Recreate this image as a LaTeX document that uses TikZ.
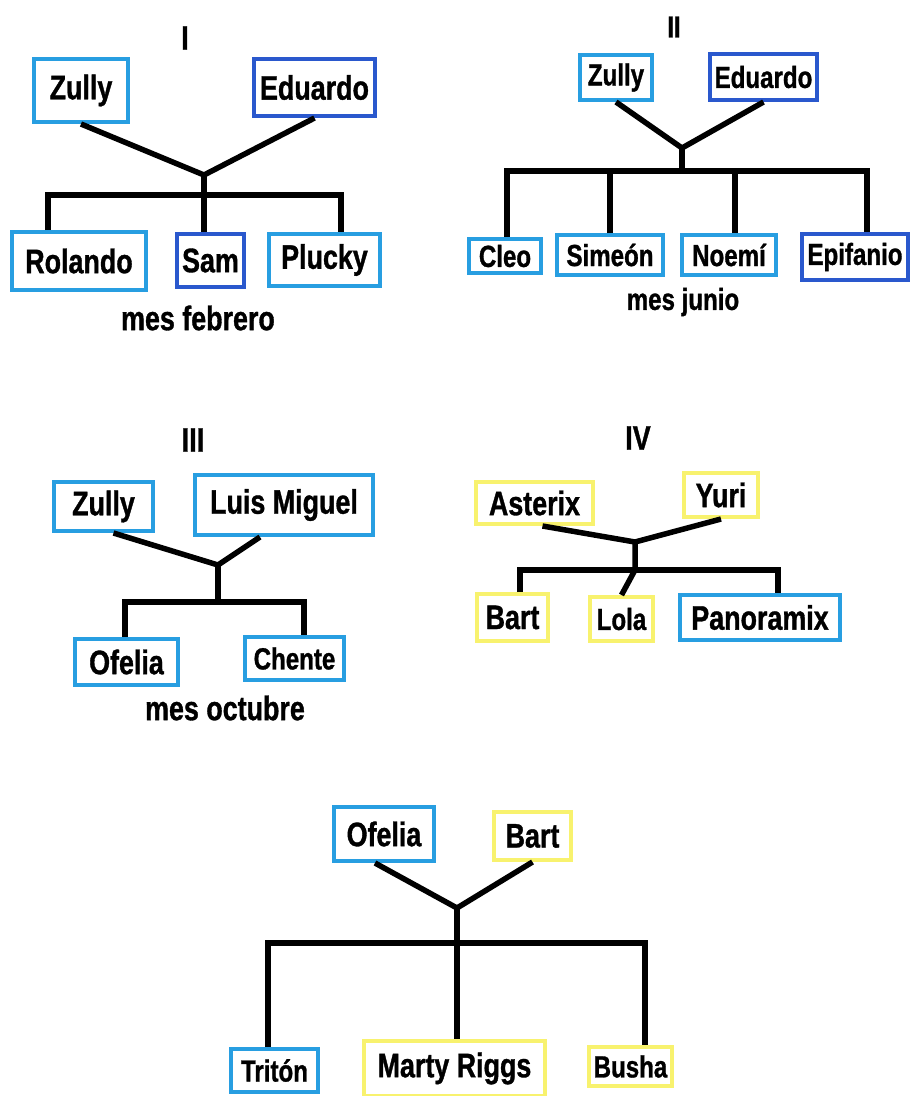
\documentclass[tikz,border=0pt]{standalone}
\usepackage{fontspec}
\setmainfont{Liberation Sans}[FakeStretch=0.79, FakeBold=1]
\usetikzlibrary{calc}

\definecolor{lblue}{RGB}{40,158,225}
\definecolor{dblue}{RGB}{42,88,205}
\definecolor{pyellow}{RGB}{248,242,110}

\begin{document}
\begin{tikzpicture}[x=1pt, y=-1pt,
  font=\fontsize{34}{34}\selectfont\bfseries,
  pbox/.style={draw=#1, line width=4pt, inner sep=0pt, fill=white},
  wh/.style 2 args={minimum width=#1, minimum height=#2},
  kin/.style={line width=5.5pt, line join=miter},
  small/.style={font=\fontsize{30.5}{30.5}\selectfont\bfseries}]
  \useasboundingbox[fill=white] (0,0) rectangle (913,1096);

  % --- arbol I: mes febrero ---
  \node (t1) at (185,38) {I};
  \node[pbox=lblue, wh={94}{63}] (zul1) at (81,90.5) {Zully};
  \node[pbox=dblue, wh={121}{57}] (edu1) at (314.5,87.5) {Eduardo};
  \node[pbox=lblue, wh={134}{58}] (rol1) at (79,261) {Rolando};
  \node[pbox=dblue, wh={67}{53}] (sam1) at (210.5,260.5) {Sam};
  \node[pbox=lblue, wh={111}{52}] (plu1) at (324.5,260) {Plucky};
  \node (m1) at (198,318) {mes febrero};
  \coordinate (j1) at (204,175);
  \coordinate (b1) at (204,195);
  \draw[kin] (zul1.south) -- (j1) -- (edu1.south);
  \draw[kin] (j1) -- (b1);
  \draw[kin] ([xshift=-31pt]rol1.north) |- (b1) -| ([xshift=16.5pt]plu1.north);
  \draw[kin] (b1) -- ([xshift=-6.5pt]sam1.north);

  % --- arbol II: mes junio ---
  \begin{scope}[small]
    \node (t2) at (674,27) {II};
    \node[pbox=lblue, wh={72}{45}] (zul2) at (616,77.5) {Zully};
    \node[pbox=dblue, wh={107}{46}] (edu2) at (763.5,77) {Eduardo};
    \node[pbox=lblue, wh={72}{34}] (cle2) at (505,256) {Cleo};
    \node[pbox=lblue, wh={106}{40}] (sim2) at (610,255) {Simeón};
    \node[pbox=lblue, wh={94}{40}] (noe2) at (729,255) {Noemí};
    \node[pbox=dblue, wh={106}{46}] (epi2) at (855,257) {Epifanio};
    \node (m2) at (683,302) {mes junio};
  \end{scope}
  \coordinate (j2) at (682,148);
  \coordinate (b2) at (682,171);
  \draw[kin] (zul2.south) -- (j2) -- (edu2.south);
  \draw[kin] (j2) -- (b2);
  \draw[kin] ([xshift=2pt]cle2.north) |- (b2) -| ([xshift=12pt]epi2.north);
  \draw[kin] (sim2.north) -- (sim2.north |- b2);
  \draw[kin] ([xshift=6pt]noe2.north) -- ([xshift=6pt]noe2.north |- b2);

  % --- arbol III: mes octubre ---
  \node (t3) at (193,440) {III};
  \node[pbox=lblue, wh={99}{49}] (zul3) at (103.5,506.5) {Zully};
  \node[pbox=lblue, wh={178}{60}] (lui3) at (284,505) {Luis Miguel};
  \node[pbox=lblue, wh={103}{46}] (ofe3) at (126.5,662) {Ofelia};
  \node[pbox=lblue, wh={99}{43}, small] (che3) at (294.5,658.5) {Chente};
  \node (m3) at (225,708) {mes octubre};
  \coordinate (j3) at (218,565);
  \coordinate (b3) at (218,602);
  \draw[kin] ([xshift=10pt]zul3.south) -- (j3) -- ([xshift=-24pt]lui3.south);
  \draw[kin] (j3) -- (b3);
  \draw[kin] ([xshift=-1.5pt]ofe3.north) |- (b3) -| ([xshift=9.5pt]che3.north);

  % --- arbol IV ---
  \node (t4) at (638,438) {IV};
  \node[pbox=pyellow, wh={117}{42}] (ast4) at (534.5,503) {Asterix};
  \node[pbox=pyellow, wh={74}{44}] (yur4) at (721,495) {Yuri};
  \node[pbox=pyellow, wh={71}{47}] (bar4) at (512.5,617.5) {Bart};
  \node[pbox=pyellow, wh={63}{44}, small] (lol4) at (621.5,619) {Lola};
  \node[pbox=lblue, wh={160}{45}] (pan4) at (760,617.5) {Panoramix};
  \coordinate (j4) at (635,542);
  \coordinate (b4) at (635,570);
  \draw[kin] ([xshift=8pt]ast4.south) -- (j4) -- (yur4.south);
  \draw[kin] (j4) -- (b4) -- (lol4.north);
  \draw[kin] ([xshift=7.5pt]bar4.north) |- (b4) -| ([xshift=18pt]pan4.north);

  % --- arbol V ---
  \node[pbox=lblue, wh={100}{54}] (ofe5) at (384,834) {Ofelia};
  \node[pbox=pyellow, wh={77}{48}] (bar5) at (532.5,836) {Bart};
  \node[pbox=lblue, wh={87}{43}, small] (tri5) at (274.5,1070.5) {Tritón};
  \node[pbox=pyellow, wh={181}{55}] (mar5) at (454.5,1068.5) {Marty Riggs};
  \node[pbox=pyellow, wh={83}{39}, small] (bus5) at (630.5,1066.5) {Busha};
  \coordinate (j5) at (457,908);
  \coordinate (b5) at (457,943);
  \draw[kin] ([xshift=-9pt]ofe5.south) -- (j5) -- (bar5.south);
  \draw[kin] (j5) -- (b5);
  \draw[kin] ([xshift=-6.5pt]tri5.north) |- (b5) -| ([xshift=14.5pt]bus5.north);
  \draw[kin] (b5) -- ([xshift=2.5pt]mar5.north);
\end{tikzpicture}
\end{document}
